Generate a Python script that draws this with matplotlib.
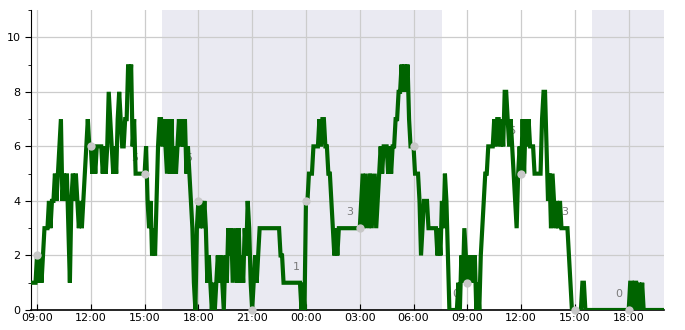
import matplotlib
matplotlib.use("Agg")
import matplotlib.pyplot as plt
import matplotlib.dates as mdates
from matplotlib.ticker import MultipleLocator
import pandas as pd

# 5-minute readings, one string per hour (first block starts 08:45)
DAY1 = [
    "111",           # 08:45
    "212123334344",  # 09
    "545674545314",  # 10
    "545434345676",  # 11
    "656566665656",  # 12
    "876565787667",  # 13
    "798967555555",  # 14
    "564342324677",  # 15
    "676575756567",  # 16
    "676756543103",  # 17
    "434343121010",  # 18
    "121210213231",  # 19
    "231312132431",  # 20
    "012123333333",  # 21
    "333333322111",  # 22
    "111111111010",  # 23
]
DAY2 = [
    "445556666767",  # 00
    "766554323233",  # 01
    "333333333333",  # 02
    "345354353453",  # 03
    "456566656566",  # 04
    "778898989766",  # 05
    "655542344433",  # 06
    "333323243542",  # 07
    "000000102132",  # 08
    "121212010234",  # 09
    "556666767767",  # 10
    "688767654356",  # 11
    "575767666555",  # 12
    "557886453543",  # 13
    "434333332100",  # 14
    "000001100000",  # 15
    "000000000000",  # 16
    "000000000000",  # 17
    "011011010100",  # 18
    "000000000000",  # 19
]
START = "2023-01-10 08:45"

# night shading (sunset -> sunrise)
NIGHTS = [("2023-01-10 15:58", "2023-01-11 07:36"),
          ("2023-01-11 15:58", "2023-01-11 19:58")]

# 3-hourly markers
MARK_TIMES = pd.date_range("2023-01-10 09:00", "2023-01-11 18:00", freq="3h")

# annotation labels
LABEL_TIMES = pd.to_datetime([
    "2023-01-10 11:27", "2023-01-10 14:27", "2023-01-10 17:27",
    "2023-01-10 20:27", "2023-01-10 23:27", "2023-01-11 02:27",
    "2023-01-11 05:25", "2023-01-11 08:22", "2023-01-11 11:27",
    "2023-01-11 14:27", "2023-01-11 17:27",
])
LABEL_VALUES = [3, 5, 5, 1, 1, 3, 8, 0, 6, 3, 0]

X_MIN = pd.Timestamp("2023-01-10 08:40")
X_MAX = pd.Timestamp("2023-01-11 19:58")


def main():
    values = [int(c) for c in "".join(DAY1 + DAY2)]
    times = pd.date_range(START, periods=len(values), freq="5min")
    series = pd.Series(values, index=times)

    fig = plt.figure(figsize=(6.85, 3.3), dpi=100)
    ax = fig.add_axes([0.0453, 0.0606, 0.924, 0.909])
    ax.set_axisbelow(True)

    for a, b in NIGHTS:
        ax.axvspan(pd.Timestamp(a), pd.Timestamp(b), color="#eaeaf2", lw=0, zorder=0)

    ax.grid(True, color="#cccccc", lw=0.9)

    for t, v in zip(LABEL_TIMES, LABEL_VALUES):
        ax.text(t, v + 0.58, str(v), ha="center", va="center", fontsize=8,
                color="#7a7a7a", zorder=2)

    ax.plot(series.index, series.values, color="#006400", lw=3, zorder=3,
            solid_joinstyle="miter")

    marks = series.reindex(MARK_TIMES)
    ax.plot(marks.index, marks.values, "o", color="#c8c8c8", ms=6, mew=0, zorder=4,
            clip_on=False)

    ax.set_xlim(X_MIN, X_MAX)
    ax.set_ylim(0, 11)
    ax.xaxis.set_major_locator(mdates.HourLocator(byhour=[0, 3, 6, 9, 12, 15, 18, 21]))
    ax.xaxis.set_major_formatter(mdates.DateFormatter("%H:%M"))
    ax.yaxis.set_major_locator(MultipleLocator(2))
    ax.yaxis.set_minor_locator(MultipleLocator(1))

    ax.tick_params(axis="x", direction="in", length=4, labelsize=8, pad=2)
    ax.tick_params(axis="y", which="major", direction="out", length=4, labelsize=8)
    ax.tick_params(axis="y", which="minor", direction="out", length=2)

    for side in ("top", "right"):
        ax.spines[side].set_visible(False)
    ax.spines["left"].set_color("black")
    ax.spines["bottom"].set_color("black")
    ax.spines["bottom"].set_linewidth(1.2)

    fig.savefig("out.png", dpi=100)
    plt.close(fig)


if __name__ == "__main__":
    main()
